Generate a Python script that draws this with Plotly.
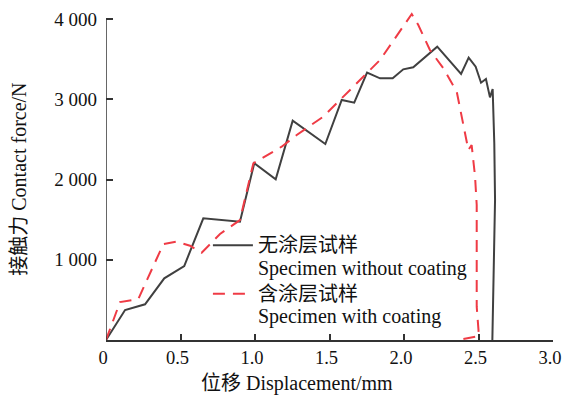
import plotly.graph_objects as go

# Data
black_x = [0, 0.128, 0.262, 0.391, 0.525, 0.653, 0.899, 0.995, 1.139, 1.253, 1.472, 1.582, 1.666,
           1.752, 1.839, 1.924, 1.995, 2.062, 2.223, 2.383, 2.434, 2.481, 2.517, 2.550, 2.577,
           2.595, 2.606, 2.611, 2.593]
black_y = [0, 374, 445, 769, 922, 1517, 1474, 2202, 2003, 2733, 2442, 2991, 2957,
           3333, 3261, 3261, 3373, 3398, 3655, 3315, 3518, 3406, 3206, 3252, 3024,
           3128, 2451, 1745, 0]

red_x = [0, 0.094, 0.217, 0.385, 0.474, 0.564, 0.642, 0.765, 0.899, 0.989, 1.179, 1.280, 1.458,
         1.570, 1.839, 2.052, 2.096, 2.174, 2.264, 2.354, 2.398, 2.432, 2.454, 2.477, 2.488,
         2.488, 2.503, 2.365]
red_y = [0, 473, 511, 1196, 1225, 1175, 1088, 1321, 1495, 2202, 2409, 2555, 2783,
         2991, 3489, 4062, 3925, 3614, 3386, 3094, 2700, 2368, 2430, 2035, 1682,
         415, 50, 0]

x_ticks = [0, 0.5, 1.0, 1.5, 2.0, 2.5, 3.0]
x_ticktext = ["0", "0.5", "1.0", "1.5", "2.0", "2.5", "3.0"]
y_ticks = [1000, 2000, 3000, 4000]
y_ticktext = ["1 000", "2 000", "3 000", "4 000"]

black_lines = ["无涂层试样", "Specimen without coating"]
red_lines = ["含涂层试样", "Specimen with coating"]
x_title = "位移 Displacement/mm"
y_title = "接触力 Contact force/N"

FONT = "Liberation Serif, Noto Sans CJK SC, serif"
AX = "#333333"


def legend_name(lines):
    return "<br>".join('<span style="font-size:20px">%s</span>' % s for s in lines)


fig = go.Figure()
fig.add_trace(go.Scatter(x=black_x, y=black_y, mode="lines", name=legend_name(black_lines),
                         line=dict(color="#404040", width=2)))
fig.add_trace(go.Scatter(x=red_x, y=red_y, mode="lines", name=legend_name(red_lines),
                         line=dict(color="#ef3b45", width=2, dash="12px,8px")))

fig.update_layout(
    width=564, height=396,
    margin=dict(l=106, r=11, t=11, b=56, autoexpand=False),
    paper_bgcolor="white", plot_bgcolor="white",
    font=dict(family=FONT, size=18, color="#111111"),
    showlegend=True,
    legend=dict(x=0.228, y=0.342, xanchor="left", yanchor="top",
                bgcolor="rgba(0,0,0,0)", font=dict(size=17.5, family=FONT),
                valign="top", tracegroupgap=0, itemwidth=40),
    xaxis=dict(range=[0, 3], tickvals=x_ticks, ticktext=x_ticktext,
               ticks="inside", ticklen=6, tickwidth=1.5, tickcolor=AX,
               showline=True, linecolor=AX, linewidth=1.5,
               showgrid=False, zeroline=False, tickfont=dict(size=18.5),
               ticklabelshift=-3, ticklabeloverflow="allow"),
    yaxis=dict(range=[0, 4100], tickvals=y_ticks, ticktext=y_ticktext,
               ticks="inside", ticklen=7, tickwidth=1.5, tickcolor=AX,
               showline=False, showgrid=False, zeroline=False,
               tickfont=dict(size=19), ticklabelstandoff=8),
    shapes=[dict(type="line", xref="x", yref="y", x0=0, x1=0, y0=0, y1=4000,
                 line=dict(color=AX, width=1.5))],
    annotations=[
        dict(text=x_title, xref="paper", yref="paper", x=0.427, y=-0.131,
             xanchor="center", yanchor="middle", showarrow=False, font=dict(size=20)),
        dict(text=y_title, xref="paper", yref="paper", x=-0.194, y=0.488,
             xanchor="center", yanchor="middle", showarrow=False, textangle=-90,
             font=dict(size=20)),
    ],
)

# remove the default page margin so the 564x396 figure fills the window exactly
fig.write_html("out.html",
               config={"displayModeBar": False},
               post_script="document.body.style.margin='0';document.body.style.overflow='hidden';")
